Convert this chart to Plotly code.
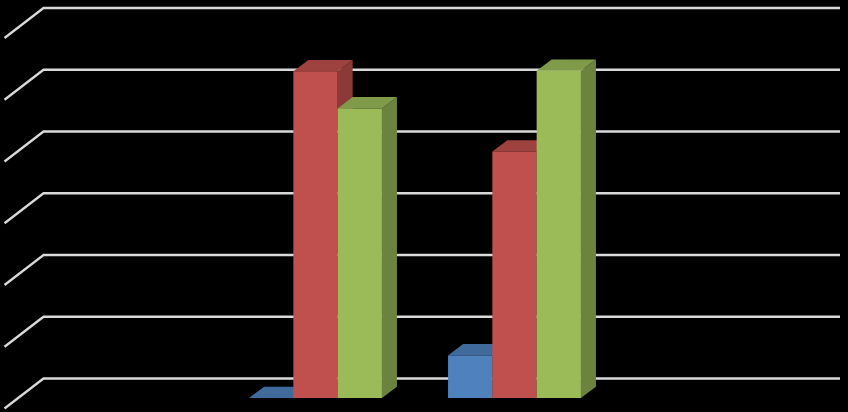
import plotly.graph_objects as go

# chart values, 4 categories (first and last are empty in the picture)
categories = [0, 1, 2, 3]
series1 = [None, 0.0, 0.69, None]
series2 = [None, 5.29, 3.99, None]
series3 = [None, 4.69, 5.30, None]
grid_levels = [0, 1, 2, 3, 4, 5, 6]

front_colors = ['#4F81BD', '#C0504D', '#9BBB59']
top_colors = ['#416A9C', '#9E4240', '#7F9A49']
side_colors = ['#3A5F8C', '#8C3A38', '#6B833E']

# size of one category and one grid step on the page, used for the 3d look
cat_px = 199.0
step_px = 61.75
bar_w = 44.3 / cat_px
depth_x = 15.0 / cat_px
depth_y = 11.3 / step_px
wall_x = 39.0 / cat_px
wall_y = 30.0 / step_px
back_floor = 19.5 / step_px
grid_left = -0.5627
grid_right = 3.6357

fig = go.Figure()


def face(xs, ys, color):
    fig.add_trace(go.Scatter(x=xs, y=ys, mode='lines', fill='toself',
                             fillcolor=color, line={'width': 0},
                             hoverinfo='skip', showlegend=False))


# gridlines go below the traces so the bars cover them
for level in grid_levels:
    y_back = level + back_floor
    fig.add_shape(type='path', layer='below',
                  path=f'M {grid_left} {y_back - wall_y} '
                       f'L {grid_left + wall_x} {y_back} '
                       f'L {grid_right} {y_back}',
                  line={'color': '#D9D9D9', 'width': 2.3})

for cat in categories:
    for i, values in enumerate([series1, series2, series3]):
        v = values[cat]
        if v is None:
            continue
        x0 = cat + (i - 1.5) * bar_w
        x1 = x0 + bar_w
        face([x1, x1 + depth_x, x1 + depth_x, x1],
             [0, depth_y, v + depth_y, v], side_colors[i])
        face([x0, x0 + depth_x, x1 + depth_x, x1],
             [v, v + depth_y, v + depth_y, v], top_colors[i])
        if v > 0:
            face([x0, x1, x1, x0], [0, 0, v, v], front_colors[i])

fig.update_layout(
    width=848, height=412,
    margin={'l': 0, 'r': 0, 't': 0, 'b': 0},
    paper_bgcolor='black', plot_bgcolor='black',
    xaxis={'visible': False, 'range': [-116.5 / cat_px, 731.5 / cat_px]},
    yaxis={'visible': False, 'range': [-14.0 / step_px, 398.0 / step_px]},
)

# page has a default body margin, drop it so the chart fills the window
fig.write_html("out.html", config={'displayModeBar': False},
               post_script="document.body.style.margin = '0';"
                           "document.body.style.background = 'black';")
